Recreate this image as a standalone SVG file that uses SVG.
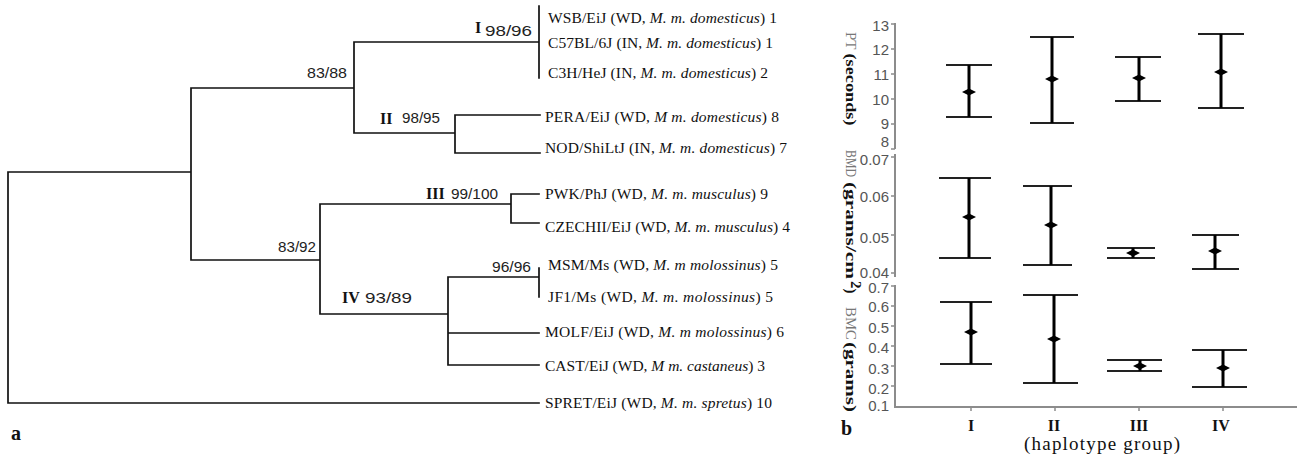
<svg xmlns="http://www.w3.org/2000/svg" width="1297" height="461" viewBox="0 0 1297 461">
<style>
.br{stroke:#111;stroke-width:1.7;fill:none;stroke-linecap:square}
.lf{font-family:"Liberation Serif",serif;font-size:15.5px;fill:#111}
.it{font-style:italic}
.sup{font-family:"Liberation Sans",sans-serif;font-size:15.5px;fill:#222}
.rn{font-family:"Liberation Serif",serif;font-size:16px;font-weight:bold;fill:#111}
.ax{stroke:#8c8c8c;stroke-width:2;fill:none}
.tk{stroke:#8c8c8c;stroke-width:1.5}
.tl{font-family:"Liberation Sans",sans-serif;font-size:15px;fill:#555;text-anchor:end;dominant-baseline:central}
.cap{stroke:#222;stroke-width:2}
.bar{stroke:#000;stroke-width:3}
.mn{fill:#000}
.yt1{font-family:"Liberation Serif",serif;font-size:15px;fill:#777}
.yt2{font-family:"Liberation Serif",serif;font-size:15px;font-weight:bold;fill:#111}
.xl{font-family:"Liberation Serif",serif;font-size:16px;font-weight:bold;fill:#111;text-anchor:middle}
.pl{font-family:"Liberation Serif",serif;font-size:20px;font-weight:bold;fill:#111}
</style>
<rect width="1297" height="461" fill="#fff"/>

<g id="connectors">
<path class="br" d="M8,172V403M8,172H191M191,88V260M191,88H354M354,42V133M354,42H539M539,6V78M354,133H455M455,115V153M455,115H540M455,153H540M191,260H320M320,204V314M320,204H511M511,194V223M511,194H539M511,223H539M320,314H448M448,277V365M448,277H539M539,268V297M448,333H539M448,365H539M8,403H539"/>
</g>

<g id="support-labels">
<text class="sup" x="307" y="78" textLength="40" lengthAdjust="spacingAndGlyphs">83/88</text>
<text class="rn" x="475" y="33">I</text>
<text class="sup" x="485" y="36" textLength="47" lengthAdjust="spacingAndGlyphs" font-size="17">98/96</text>
<text class="rn" x="380" y="124">II</text>
<text class="sup" x="402" y="123" textLength="38" lengthAdjust="spacingAndGlyphs">98/95</text>
<text class="rn" x="426" y="199">III</text>
<text class="sup" x="451" y="199" textLength="47" lengthAdjust="spacingAndGlyphs">99/100</text>
<text class="sup" x="278" y="252" textLength="38" lengthAdjust="spacingAndGlyphs">83/92</text>
<text class="rn" x="342" y="303">IV</text>
<text class="sup" x="365" y="303" textLength="47" lengthAdjust="spacingAndGlyphs" font-size="17">93/89</text>
<text class="sup" x="492" y="272" textLength="39" lengthAdjust="spacingAndGlyphs">96/96</text>
</g>

<g id="leaf-wsb"><text class="lf" x="548" y="23" textLength="229">WSB/EiJ (WD, <tspan class="it">M. m. domesticus</tspan>) 1</text></g>
<g id="leaf-c57"><text class="lf" x="548" y="48" textLength="225">C57BL/6J (IN, <tspan class="it">M. m. domesticus</tspan>) 1</text></g>
<g id="leaf-c3h"><text class="lf" x="548" y="78" textLength="220">C3H/HeJ (IN, <tspan class="it">M. m. domesticus</tspan>) 2</text></g>
<g id="leaf-pera"><text class="lf" x="545" y="122" textLength="234">PERA/EiJ (WD, <tspan class="it">M m. domesticus</tspan>) 8</text></g>
<g id="leaf-nod"><text class="lf" x="545" y="153" textLength="242">NOD/ShiLtJ (IN, <tspan class="it">M. m. domesticus</tspan>) 7</text></g>
<g id="leaf-pwk"><text class="lf" x="545" y="199" textLength="223">PWK/PhJ (WD, <tspan class="it">M. m. musculus</tspan>) 9</text></g>
<g id="leaf-czechii"><text class="lf" x="545" y="232" textLength="245">CZECHII/EiJ (WD, <tspan class="it">M. m. musculus</tspan>) 4</text></g>
<g id="leaf-msm"><text class="lf" x="548" y="270" textLength="230">MSM/Ms (WD, <tspan class="it">M. m molossinus</tspan>) 5</text></g>
<g id="leaf-jf1"><text class="lf" x="548" y="302" textLength="225">JF1/Ms (WD, <tspan class="it">M. m. molossinus</tspan>) 5</text></g>
<g id="leaf-molf"><text class="lf" x="545" y="337" textLength="239">MOLF/EiJ (WD, <tspan class="it">M. m molossinus</tspan>) 6</text></g>
<g id="leaf-cast"><text class="lf" x="545" y="371" textLength="220">CAST/EiJ (WD, <tspan class="it">M m. castaneus</tspan>) 3</text></g>
<g id="leaf-spret"><text class="lf" x="545" y="408" textLength="227">SPRET/EiJ (WD, <tspan class="it">M. m. spretus</tspan>) 10</text></g>

<text class="pl" x="11" y="440">a</text>
<text class="pl" x="841" y="435">b</text>

<g id="axes">
<path class="ax" d="M895,23V149M895,154V277M895,285V407H1297"/>
<path class="tk" d="M891,24H895M891,49H895M891,74H895M891,99H895M891,124H895M891,149H895M891,157H895M891,196H895M891,235H895M891,273H895M891,286H895M891,306H895M891,326H895M891,346H895M891,366H895M891,386H895M971,407V411M1055,407V411M1139,407V411M1223,407V411"/>
<text class="tl" x="889" y="25">13</text>
<text class="tl" x="889" y="49">12</text>
<text class="tl" x="889" y="74">11</text>
<text class="tl" x="889" y="99">10</text>
<text class="tl" x="889" y="123">9</text>
<text class="tl" x="889" y="141">8</text>
<text class="tl" x="889" y="159">0.07</text>
<text class="tl" x="889" y="196">0.06</text>
<text class="tl" x="889" y="237">0.05</text>
<text class="tl" x="889" y="272">0.04</text>
<text class="tl" x="889" y="287">0.7</text>
<text class="tl" x="889" y="306">0.6</text>
<text class="tl" x="889" y="327">0.5</text>
<text class="tl" x="889" y="347">0.4</text>
<text class="tl" x="889" y="368">0.3</text>
<text class="tl" x="889" y="388">0.2</text>
<text class="tl" x="889" y="405">0.1</text>
</g>

<g id="axis-titles">
<text transform="translate(846,32) rotate(90)"><tspan class="yt1" font-family="Liberation Sans, sans-serif">PT</tspan><tspan class="yt2" dx="4" textLength="72" lengthAdjust="spacingAndGlyphs">(seconds)</tspan></text>
<text transform="translate(846,150) rotate(90)"><tspan class="yt1" textLength="27" lengthAdjust="spacingAndGlyphs">BMD</tspan><tspan class="yt2" dx="5" textLength="97" lengthAdjust="spacingAndGlyphs">(grams/cm</tspan><tspan class="yt2" font-size="10" dy="-5" dx="2">2</tspan><tspan class="yt2" dy="5">)</tspan></text>
<text transform="translate(846,307) rotate(90)"><tspan class="yt1" textLength="33" lengthAdjust="spacingAndGlyphs">BMC</tspan><tspan class="yt2" dx="2" textLength="70" lengthAdjust="spacingAndGlyphs">(grams)</tspan></text>
</g>

<g id="pt-bars">
<path class="cap" d="M946,65H992M946,117H992M1030,37H1074M1030,123H1074M1115,57H1161M1115,101H1161M1198,34H1244M1198,108H1244"/>
<path class="bar" d="M969,65V117M1052,37V123M1139,57V101M1221,34V108"/>
<polygon class="mn" points="962,92 969,88.5 976,92 969,95.5"/>
<polygon class="mn" points="1045,79 1052,75.5 1059,79 1052,82.5"/>
<polygon class="mn" points="1132,78 1139,74.5 1146,78 1139,81.5"/>
<polygon class="mn" points="1214,72 1221,68.5 1228,72 1221,75.5"/>
</g>

<g id="bmd-bars">
<path class="cap" d="M939,178H991M939,258H991M1023,186H1072M1023,265H1072M1107,248H1155M1107,258H1155M1192,235H1239M1192,269H1239"/>
<path class="bar" d="M969,178V258M1051,186V265M1133,248V258M1215,235V269"/>
<polygon class="mn" points="962,217 969,213.5 976,217 969,220.5"/>
<polygon class="mn" points="1044,225 1051,221.5 1058,225 1051,228.5"/>
<polygon class="mn" points="1126,253 1133,249.5 1140,253 1133,256.5"/>
<polygon class="mn" points="1208,251 1215,247.5 1222,251 1215,254.5"/>
</g>

<g id="bmc-bars">
<path class="cap" d="M940,302H992M940,364H992M1023,295H1078M1023,383H1078M1107,360H1162M1107,371H1162M1192,350H1247M1192,387H1247"/>
<path class="bar" d="M971,302V364M1054,295V383M1140,360V371M1223,350V387"/>
<polygon class="mn" points="964,332 971,328.5 978,332 971,335.5"/>
<polygon class="mn" points="1047,339 1054,335.5 1061,339 1054,342.5"/>
<polygon class="mn" points="1133,366 1140,362.5 1147,366 1140,369.5"/>
<polygon class="mn" points="1216,368 1223,364.5 1230,368 1223,371.5"/>
</g>

<g id="x-labels">
<text class="xl" x="971" y="431">I</text>
<text class="xl" x="1054" y="431">II</text>
<text class="xl" x="1139" y="431">III</text>
<text class="xl" x="1221" y="431">IV</text>
<text x="1024" y="450" font-family="Liberation Serif, serif" font-size="19" fill="#111" textLength="156">(haplotype group)</text>
</g>
</svg>
